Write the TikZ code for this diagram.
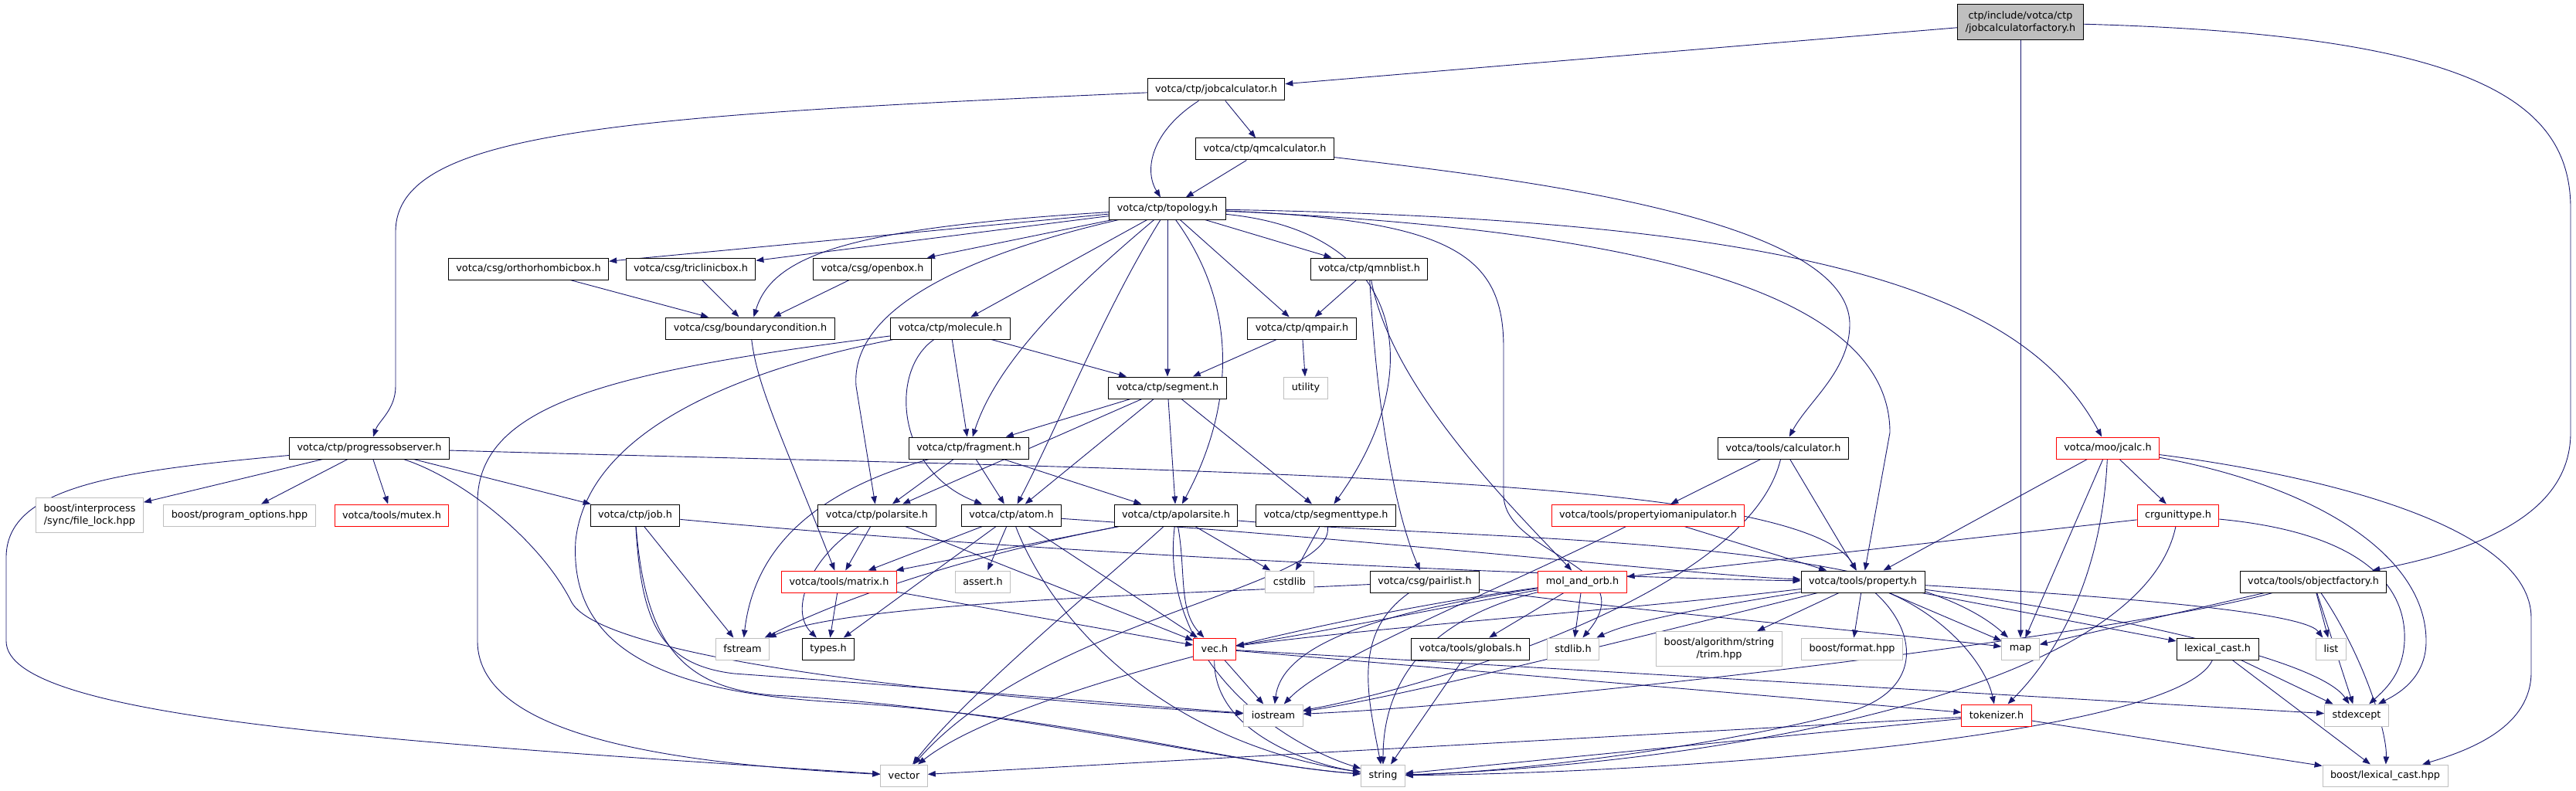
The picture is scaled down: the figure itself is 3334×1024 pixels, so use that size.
\documentclass[tikz,border=0pt]{standalone}
\usepackage{fontspec}
\setmainfont{DejaVu Sans}
\usetikzlibrary{arrows.meta}
\definecolor{edgecol}{HTML}{191970}
\definecolor{extgray}{HTML}{BFBFBF}
\newcommand\nodefont{\fontsize{12.8}{16}\selectfont}
\pgfdeclarelayer{paper}
\pgfdeclarelayer{edgelayer}
\pgfsetlayers{paper,edgelayer,main}
\tikzset{
  nb/.style={draw=black, line width=1pt, fill=white, inner xsep=10pt, inner ysep=0pt, minimum height=28pt, font=\nodefont, align=center},
  ng/.style={nb, draw=extgray},
  nr/.style={nb, draw=red},
  e/.style={draw=edgecol, line width=0.9pt, -{Triangle[length=10pt,width=7.5pt]}}
}
\begin{document}
\begin{tikzpicture}[x=1pt,y=1pt]
\begin{pgfonlayer}{paper}
\fill[white] (0,0) rectangle (3334,-1024);
\end{pgfonlayer}
\useasboundingbox (0,0) rectangle (3334,-1024);
% ---------------- nodes ----------------
\node[nb, fill=extgray, minimum height=46pt] (root) at (2615,-29) {ctp/include/votca/ctp\\/jobcalculatorfactory.h};
\node[nb] (jobcalc) at (1574,-116) {votca/ctp/jobcalculator.h};
\node[nb] (qmcalc) at (1637,-193) {votca/ctp/qmcalculator.h};
\node[nb] (topology) at (1511,-270) {votca/ctp/topology.h};
\node[nb] (ortho) at (684,-348) {votca/csg/orthorhombicbox.h};
\node[nb] (tricl) at (894,-348) {votca/csg/triclinicbox.h};
\node[nb] (openbox) at (1129,-348) {votca/csg/openbox.h};
\node[nb] (qmnblist) at (1772,-348) {votca/ctp/qmnblist.h};
\node[nb] (bc) at (971,-425) {votca/csg/boundarycondition.h};
\node[nb] (molecule) at (1230,-425) {votca/ctp/molecule.h};
\node[nb] (qmpair) at (1685,-425) {votca/ctp/qmpair.h};
\node[nb] (segment) at (1511,-502) {votca/ctp/segment.h};
\node[ng] (utility) at (1690,-502) {utility};
\node[nb] (progobs) at (478,-580) {votca/ctp/progressobserver.h};
\node[nb] (fragment) at (1254,-580) {votca/ctp/fragment.h};
\node[nb] (calculator) at (2308,-580) {votca/tools/calculator.h};
\node[nr] (jcalc) at (2728,-580) {votca/moo/jcalc.h};
\node[ng, minimum height=45pt] (filelock) at (116,-667) {boost/interprocess\\/sync/file\_lock.hpp};
\node[ng] (progopts) at (310,-667) {boost/program\_options.hpp};
\node[nr] (mutex) at (507,-667) {votca/tools/mutex.h};
\node[nb] (job) at (822,-667) {votca/ctp/job.h};
\node[nb] (polarsite) at (1135,-667) {votca/ctp/polarsite.h};
\node[nb] (atom) at (1309,-667) {votca/ctp/atom.h};
\node[nb] (apolarsite) at (1522,-667) {votca/ctp/apolarsite.h};
\node[nb] (segtype) at (1716,-667) {votca/ctp/segmenttype.h};
\node[nr] (propio) at (2133,-667) {votca/tools/propertyiomanipulator.h};
\node[nr] (crgunit) at (2819,-667) {crgunittype.h};
\node[nr] (matrix) at (1086,-753) {votca/tools/matrix.h};
\node[ng] (assert) at (1272,-753) {assert.h};
\node[ng] (cstdlib) at (1669,-753) {cstdlib};
\node[nb] (pairlist) at (1844,-753) {votca/csg/pairlist.h};
\node[nr] (molorb) at (2048,-753) {mol\_and\_orb.h};
\node[nb] (property) at (2411,-753) {votca/tools/property.h};
\node[nb] (objfactory) at (2994,-753) {votca/tools/objectfactory.h};
\node[ng] (fstream) at (961,-840) {fstream};
\node[nb] (types) at (1072,-840) {types.h};
\node[nr] (vec) at (1572,-840) {vec.h};
\node[nb] (globals) at (1903,-840) {votca/tools/globals.h};
\node[ng] (stdlib) at (2036,-840) {stdlib.h};
\node[ng, minimum height=45pt] (trim) at (2225,-840) {boost/algorithm/string\\/trim.hpp};
\node[ng] (format) at (2397,-840) {boost/format.hpp};
\node[ng] (map) at (2615,-840) {map};
\node[nb] (lexcast) at (2870,-840) {lexical\_cast.h};
\node[ng] (list) at (3017,-840) {list};
\node[ng] (iostream) at (1648,-926) {iostream};
\node[nr] (tokenizer) at (2584,-926) {tokenizer.h};
\node[ng] (stdexcept) at (3050,-926) {stdexcept};
\node[ng] (vector) at (1170,-1004) {vector};
\node[ng] (string) at (1790,-1004) {string};
\node[ng] (blexcast) at (3087,-1004) {boost/lexical\_cast.hpp};
% ---------------- edges ----------------
\begin{pgfonlayer}{edgelayer}
% root
\draw[e] (root) -- (jobcalc);
\draw[e] (root) -- (map);
\draw[e] (root) .. controls (3200,-45) and (3327,-130) .. (3327,-270) -- (3327,-560) .. controls (3327,-660) and (3220,-710) .. (objfactory);
% jobcalculator
\draw[e] (jobcalc) .. controls (800,-150) and (512,-170) .. (512,-300) -- (512,-500) .. controls (512,-530) and (490,-545) .. (progobs);
\draw[e] (jobcalc) -- (qmcalc);
\draw[e] (jobcalc) .. controls (1490,-170) and (1480,-220) .. (topology);
% qmcalculator
\draw[e] (qmcalc) -- (topology);
\draw[e] (qmcalc) .. controls (1950,-230) and (2394,-280) .. (2394,-420) .. controls (2394,-480) and (2340,-520) .. (calculator);
% topology
\draw[e] (topology) -- (ortho);
\draw[e] (topology) -- (tricl);
\draw[e] (topology) -- (openbox);
\draw[e] (topology) .. controls (1100,-295) and (1000,-330) .. (bc);
\draw[e] (topology) -- (molecule);
\draw[e] (topology) -- (qmnblist);
\draw[e] (topology) -- (qmpair);
\draw[e] (topology) -- (segment);
\draw[e] (topology) .. controls (1380,-380) and (1290,-470) .. (fragment);
\draw[e] (topology) .. controls (1250,-330) and (1100,-400) .. (1108,-500) -- (polarsite);
\draw[e] (topology) .. controls (1430,-400) and (1370,-550) .. (atom);
\draw[e] (topology) .. controls (1620,-420) and (1580,-560) .. (apolarsite);
\draw[e] (topology) .. controls (1820,-300) and (1850,-480) .. (segtype);
\draw[e] (topology) .. controls (1880,-285) and (1946,-330) .. (1946,-450) -- (1946,-640) .. controls (1946,-720) and (2130,-730) .. (stdlib);
\draw[e] (topology) .. controls (2200,-300) and (2446,-400) .. (2446,-560) -- (property);
\draw[e] (topology) .. controls (2350,-285) and (2620,-380) .. (jcalc);
% csg boxes
\draw[e] (ortho) -- (bc);
\draw[e] (tricl) -- (bc);
\draw[e] (openbox) -- (bc);
\draw[e] (bc) .. controls (980,-500) and (1010,-560) .. (matrix);
% molecule
\draw[e] (molecule) -- (segment);
\draw[e] (molecule) -- (fragment);
\draw[e] (molecule) .. controls (1150,-480) and (1160,-610) .. (atom);
\draw[e] (molecule) .. controls (800,-480) and (618,-520) .. (618,-650) -- (618,-830) .. controls (618,-960) and (900,-990) .. (vector);
\draw[e] (molecule) .. controls (950,-480) and (760,-560) .. (745,-700) .. controls (735,-860) and (900,-900) .. (1100,-910) .. controls (1400,-930) and (1600,-990) .. (string);
% qmnblist, qmpair
\draw[e] (qmnblist) -- (qmpair);
\draw[e] (qmnblist) .. controls (1780,-500) and (1800,-650) .. (pairlist);
\draw[e] (qmnblist) .. controls (1800,-500) and (1950,-650) .. (molorb);
\draw[e] (qmpair) -- (segment);
\draw[e] (qmpair) -- (utility);
% segment
\draw[e] (segment) -- (fragment);
\draw[e] (segment) -- (polarsite);
\draw[e] (segment) -- (atom);
\draw[e] (segment) -- (apolarsite);
\draw[e] (segment) -- (segtype);
% fragment
\draw[e] (fragment) -- (polarsite);
\draw[e] (fragment) -- (atom);
\draw[e] (fragment) -- (apolarsite);
\draw[e] (fragment) .. controls (1040,-640) and (975,-720) .. (fstream);
% polarsite
\draw[e] (polarsite) -- (matrix);
\draw[e] (polarsite) .. controls (1050,-720) and (1020,-790) .. (types);
\draw[e] (polarsite) -- (vec);
% atom
\draw[e] (atom) -- (matrix);
\draw[e] (atom) -- (assert);
\draw[e] (atom) -- (types);
\draw[e] (atom) -- (vec);
\draw[e] (atom) .. controls (1360,-800) and (1500,-960) .. (string);
\draw[e] (atom) .. controls (1800,-700) and (2200,-745) .. (property);
% apolarsite
\draw[e] (apolarsite) -- (matrix);
\draw[e] (apolarsite) .. controls (1200,-730) and (1060,-790) .. (fstream);
\draw[e] (apolarsite) .. controls (1535,-740) and (1525,-790) .. (vec);
\draw[e] (apolarsite) .. controls (1420,-760) and (1250,-900) .. (vector);
\draw[e] (apolarsite) .. controls (1500,-850) and (1650,-960) .. (string);
\draw[e] (apolarsite) -- (cstdlib);
\draw[e] (apolarsite) .. controls (1900,-700) and (2450,-690) .. (map);
% segmenttype
\draw[e] (segtype) -- (cstdlib);
\draw[e] (segtype) .. controls (1730,-760) and (1350,-800) .. (vector);
% progressobserver
\draw[e] (progobs) -- (filelock);
\draw[e] (progobs) -- (progopts);
\draw[e] (progobs) -- (mutex);
\draw[e] (progobs) -- (job);
\draw[e] (progobs) .. controls (150,-610) and (10,-630) .. (8,-720) -- (8,-830) .. controls (8,-930) and (500,-960) .. (vector);
\draw[e] (progobs) .. controls (600,-620) and (700,-700) .. (740,-780) .. controls (780,-850) and (1200,-900) .. (iostream);
\draw[e] (progobs) .. controls (1500,-610) and (2330,-610) .. (property);
% job
\draw[e] (job) -- (fstream);
\draw[e] (job) .. controls (830,-800) and (850,-860) .. (950,-872) .. controls (1200,-890) and (1500,-915) .. (iostream);
\draw[e] (job) .. controls (835,-830) and (880,-890) .. (1000,-900) .. controls (1300,-915) and (1600,-990) .. (string);
\draw[e] (job) .. controls (1500,-730) and (2200,-750) .. (property);
% matrix
\draw[e] (matrix) -- (types);
\draw[e] (matrix) -- (vec);
% calculator, propertyiomanipulator
\draw[e] (calculator) -- (propio);
\draw[e] (calculator) -- (property);
\draw[e] (calculator) .. controls (2260,-780) and (1800,-900) .. (iostream);
\draw[e] (propio) -- (property);
\draw[e] (propio) .. controls (1950,-760) and (1720,-850) .. (iostream);
% jcalc
\draw[e] (jcalc) -- (crgunit);
\draw[e] (jcalc) -- (property);
\draw[e] (jcalc) -- (map);
\draw[e] (jcalc) .. controls (2720,-750) and (2660,-850) .. (tokenizer);
\draw[e] (jcalc) .. controls (3000,-630) and (3140,-720) .. (3140,-830) .. controls (3140,-880) and (3100,-900) .. (stdexcept);
\draw[e] (jcalc) .. controls (3000,-615) and (3276,-680) .. (3276,-800) -- (3276,-870) .. controls (3276,-940) and (3200,-970) .. (blexcast);
% crgunittype
\draw[e] (crgunit) -- (molorb);
\draw[e] (crgunit) .. controls (2770,-900) and (2200,-990) .. (string);
\draw[e] (crgunit) .. controls (3060,-690) and (3115,-760) .. (3112,-830) .. controls (3110,-870) and (3090,-890) .. (stdexcept);
% mol_and_orb
\draw[e] (molorb) .. controls (1850,-790) and (1700,-820) .. (vec);
\draw[e] (molorb) .. controls (1800,-790) and (1660,-830) .. (iostream);
\draw[e] (molorb) .. controls (1850,-800) and (1790,-880) .. (string);
\draw[e] (molorb) -- (globals);
\draw[e] (molorb) -- (stdlib);
\draw[e] (molorb) .. controls (1700,-800) and (1300,-900) .. (vector);
% pairlist
\draw[e] (pairlist) .. controls (1500,-770) and (1100,-780) .. (fstream);
\draw[e] (pairlist) .. controls (2100,-790) and (2450,-820) .. (map);
\draw[e] (pairlist) .. controls (1750,-820) and (1770,-900) .. (string);
% property
\draw[e] (property) .. controls (2100,-790) and (1800,-810) .. (vec);
\draw[e] (property) .. controls (2100,-830) and (1800,-905) .. (iostream);
\draw[e] (property) .. controls (2485,-820) and (2490,-900) .. (2380,-925) .. controls (2200,-970) and (1950,-1000) .. (string);
\draw[e] (property) .. controls (2250,-780) and (2120,-800) .. (stdlib);
\draw[e] (property) -- (trim);
\draw[e] (property) -- (format);
\draw[e] (property) -- (map);
\draw[e] (property) -- (lexcast);
\draw[e] (property) .. controls (2700,-770) and (2980,-790) .. (list);
\draw[e] (property) .. controls (2700,-790) and (3000,-850) .. (stdexcept);
\draw[e] (property) .. controls (2520,-800) and (2570,-860) .. (tokenizer);
% vec
\draw[e] (vec) -- (iostream);
\draw[e] (vec) .. controls (1570,-950) and (1700,-990) .. (string);
\draw[e] (vec) -- (tokenizer);
\draw[e] (vec) -- (stdexcept);
% tokenizer
\draw[e] (tokenizer) -- (vector);
\draw[e] (tokenizer) -- (string);
\draw[e] (tokenizer) -- (blexcast);
% lexical_cast
\draw[e] (lexcast) .. controls (2820,-950) and (2200,-1000) .. (string);
\draw[e] (lexcast) -- (stdexcept);
\draw[e] (lexcast) -- (blexcast);
% objectfactory
\draw[e] (objfactory) -- (map);
\draw[e] (objfactory) .. controls (2750,-820) and (2000,-910) .. (iostream);
\draw[e] (objfactory) -- (list);
\draw[e] (objfactory) -- (stdexcept);
\draw[e] (objfactory) .. controls (3060,-850) and (3090,-950) .. (blexcast);
% globals
\draw[e] (globals) -- (string);
\end{pgfonlayer}
\end{tikzpicture}
\end{document}
